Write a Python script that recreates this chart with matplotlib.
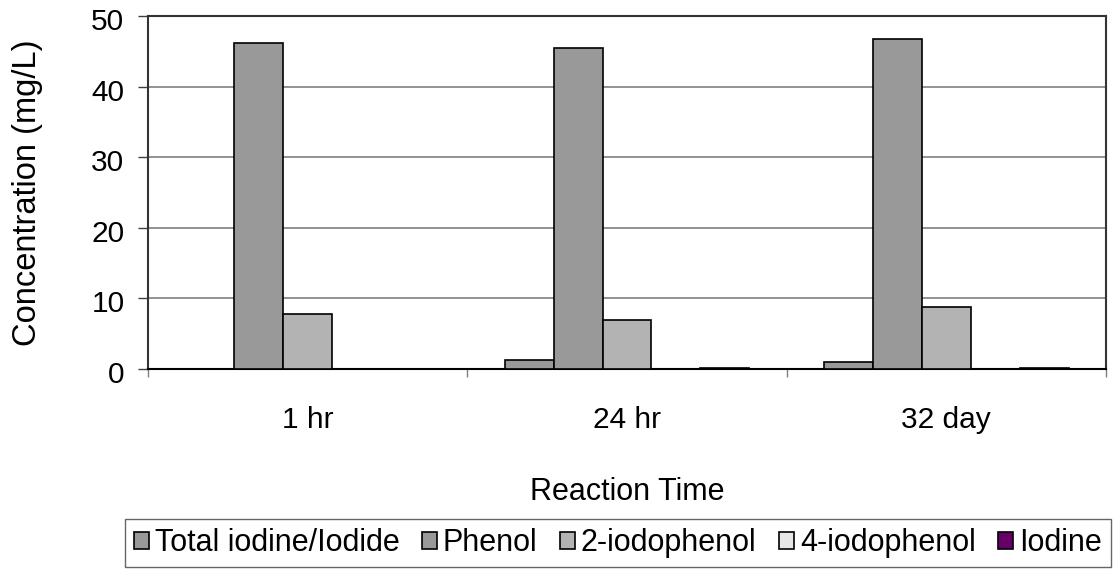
import numpy as np
import matplotlib
matplotlib.use('Agg')
from matplotlib import pyplot as plt
import matplotlib.transforms as mtransforms

plt.rcParams['font.family'] = ['Liberation Sans', 'DejaVu Sans']

times = ['1 hr', '24 hr', '32 day']
series = ['Total iodine/Iodide', 'Phenol', '2-iodophenol', '4-iodophenol', 'Iodine']
total_iodine = [0.0, 1.3, 1.0]
phenol = [46.2, 45.5, 46.7]
iodophenol_2 = [7.8, 7.0, 8.8]
iodophenol_4 = [0.0, 0.0, 0.0]
iodine = [0.0, 0.15, 0.15]
colors = ['#999999', '#999999', '#b3b3b3', '#e6e6e6', '#660066']

values = [total_iodine, phenol, iodophenol_2, iodophenol_4, iodine]

fig = plt.figure(figsize=(11.16, 5.72), dpi=100)
ax = fig.add_axes([148/1116, 1-369/572, (1106-148)/1116, (369-16)/572])

x = np.arange(len(times))
w = 49/320
for i, (vals, c, name) in enumerate(zip(values, colors, series)):
    ax.bar(x + (i-2)*w, vals, w, color=c, edgecolor='black', linewidth=1.2, label=name, zorder=3)

ax.set_xlim(-0.5, 2.5)
ax.set_ylim(0, 50)
ax.set_yticks([0, 10, 20, 30, 40, 50])
ax.yaxis.grid(True, color='#808080', linewidth=1.2, zorder=0)
ax.set_xticks(x)
ax.set_xticklabels(times)
ax.set_xticks([-0.5, 0.5, 1.5, 2.5], minor=True)
ax.tick_params(axis='x', which='major', length=0, pad=27, labelsize=21.5)
ax.tick_params(axis='x', which='minor', length=6, width=1, color='#808080', direction='out')
ax.tick_params(axis='y', length=7, width=1, labelsize=21.5, pad=10, color='#404040')
shift = mtransforms.ScaledTranslation(0, -3/100, fig.dpi_scale_trans)
for lab in ax.get_yticklabels():
    lab.set_transform(lab.get_transform() + shift)
for s in ax.spines.values():
    s.set_linewidth(1.5)
    s.set_color('#333333')
ax.spines['bottom'].set_color('black')

# axis titles placed by hand
fig.text(627/1116, 1-500/572, 'Reaction Time', fontsize=22, ha='center', va='baseline')
fig.text(28/1116, 1-193/572, 'Concentration (mg/L)', fontsize=23.5, rotation=90, ha='center', va='center')

leg = fig.legend(loc='upper left', bbox_to_anchor=(125/1116, 1-519/572), ncol=5, fontsize=22,
                 frameon=True, fancybox=False, handlelength=0.47, handleheight=0.47,
                 handletextpad=0.2, columnspacing=0.75, borderpad=0.3, borderaxespad=0)
leg.get_frame().set_edgecolor('#404040')
leg.get_frame().set_linewidth(1)

fig.savefig('out.png', dpi=100)
